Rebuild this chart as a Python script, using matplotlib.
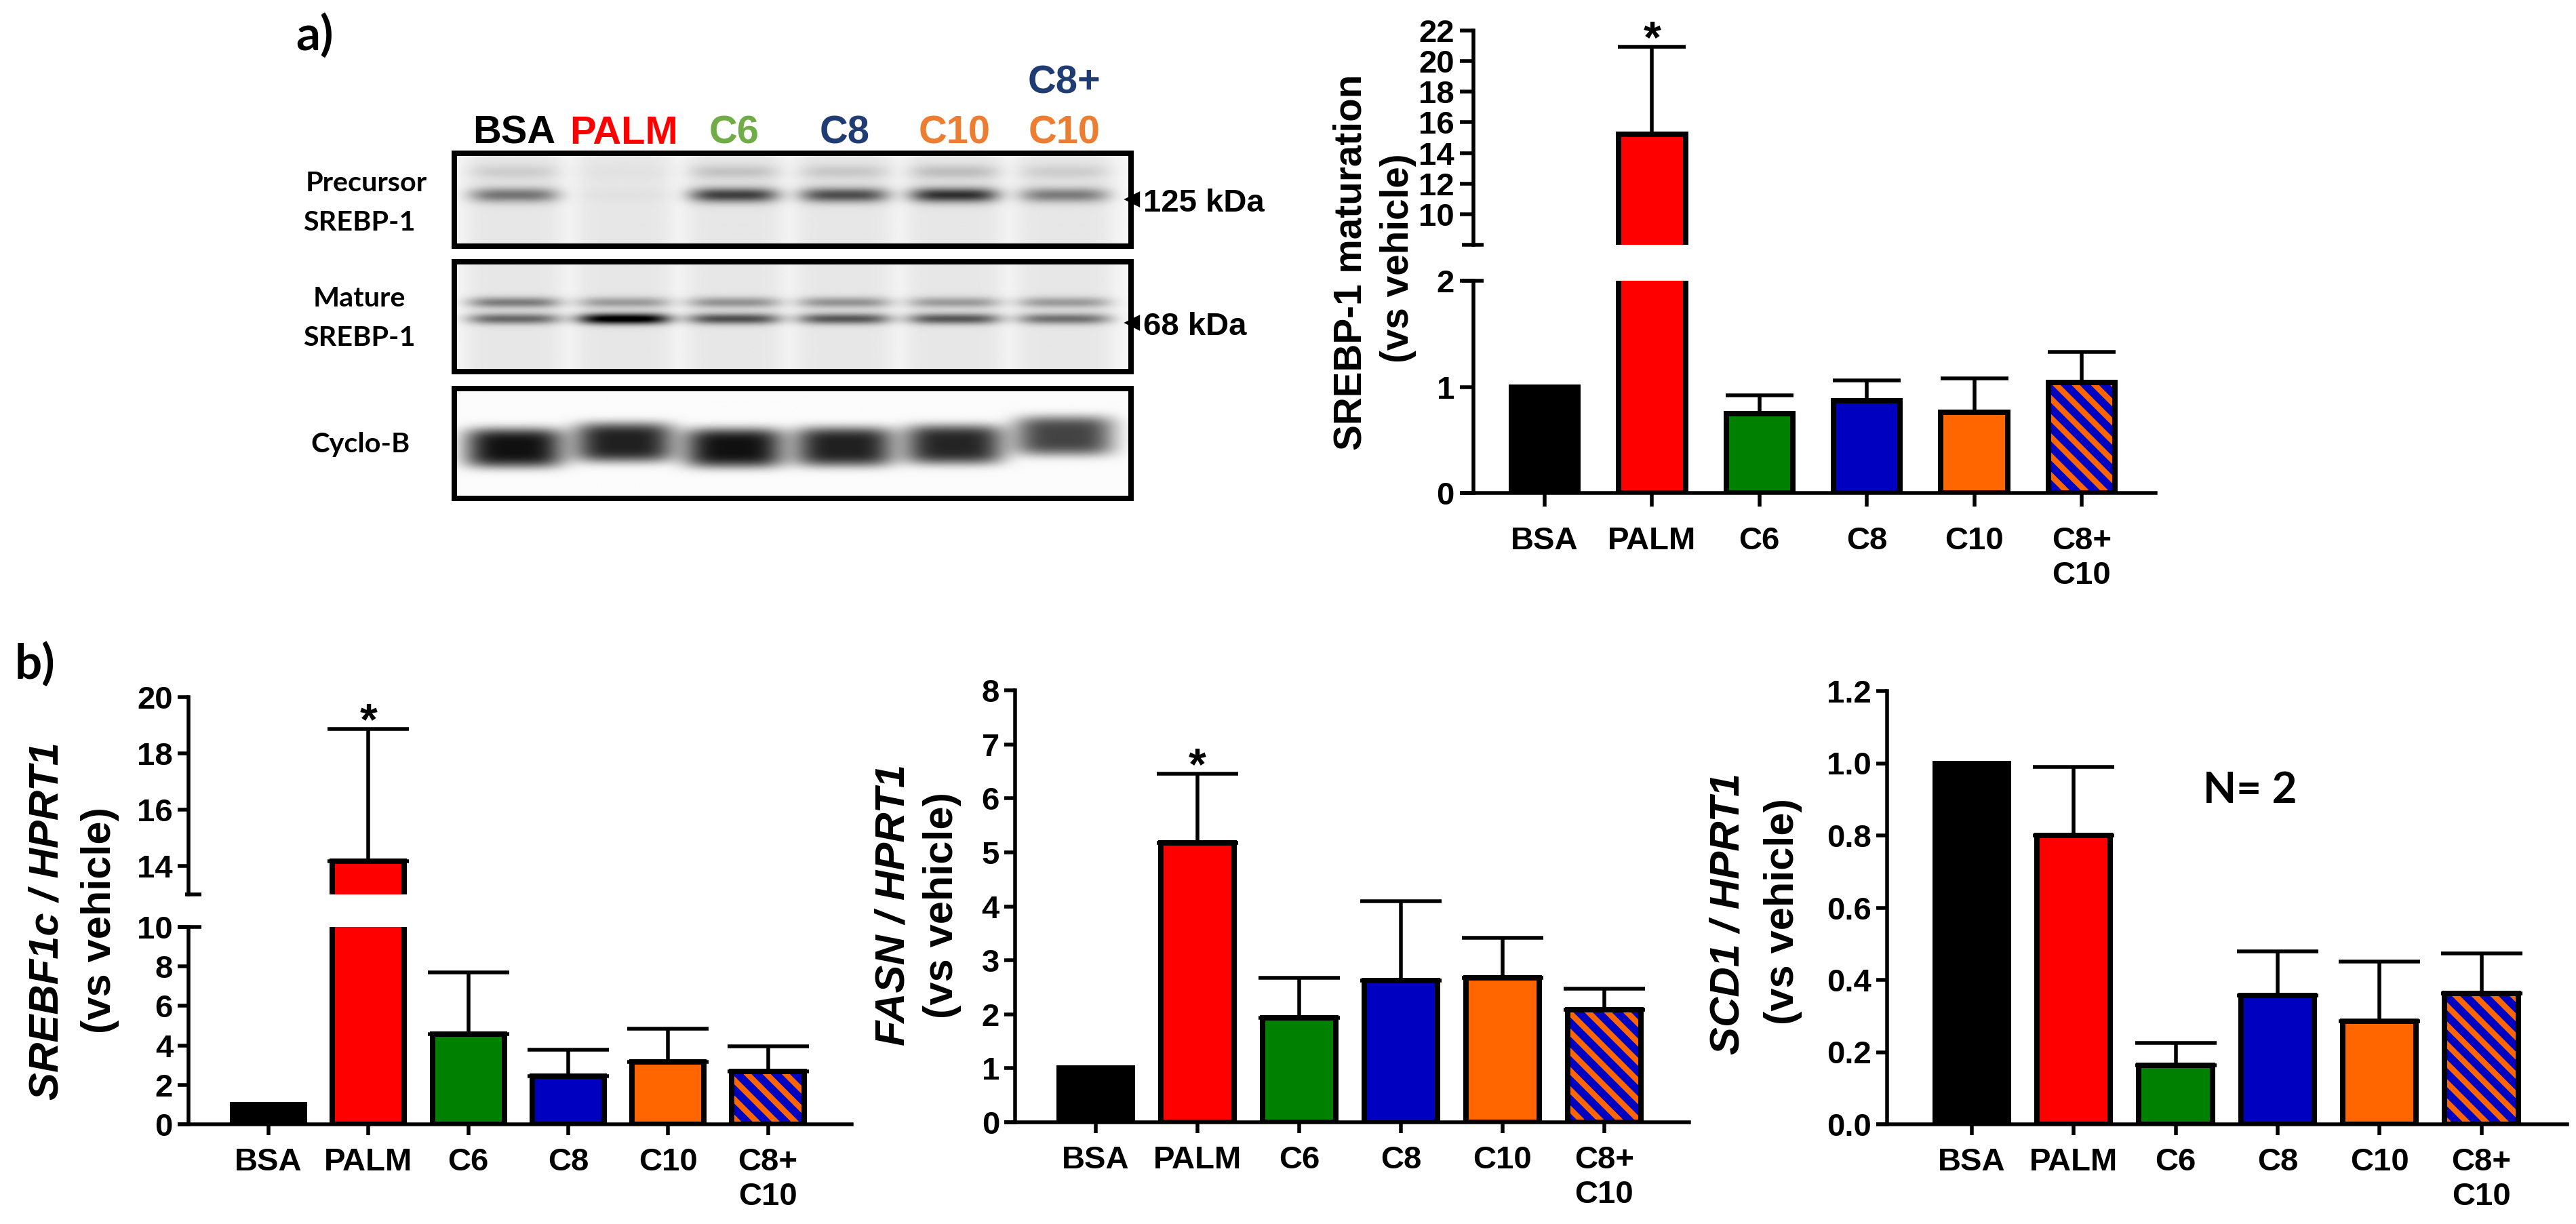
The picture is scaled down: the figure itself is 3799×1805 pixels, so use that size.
import numpy as np
import matplotlib
matplotlib.use('Agg')
import matplotlib.pyplot as plt
from matplotlib.transforms import blended_transform_factory

W, H, DPI = 3799, 1805, 170


def pt(px):
    return px * 72.0 / DPI


plt.rcParams['font.family'] = ['Liberation Sans', 'DejaVu Sans']
plt.rcParams['font.weight'] = 'bold'
plt.rcParams['hatch.linewidth'] = 3.6

# ---------------- data ----------------
groups = ['BSA', 'PALM', 'C6', 'C8', 'C10', 'C8+\nC10']
bar_colors = ['#000000', '#FF0000', '#008000', '#0000C0', '#FF6600', '#0000C0']
hatch_color = '#FF6600'
hatch_index = 5

maturation_mean = [1.00, 15.23, 0.75, 0.87, 0.76, 1.04]
maturation_top = [1.00, 20.94, 0.92, 1.06, 1.08, 1.33]
srebf1c_mean = [1.00, 14.17, 4.56, 2.45, 3.17, 2.67]
srebf1c_top = [1.00, 18.87, 7.69, 3.79, 4.84, 3.95]
fasn_mean = [1.00, 5.18, 1.94, 2.62, 2.67, 2.09]
fasn_top = [1.00, 6.45, 2.67, 4.10, 3.41, 2.47]
scd1_mean = [1.00, 0.80, 0.164, 0.356, 0.285, 0.362]
scd1_top = [1.00, 0.99, 0.225, 0.479, 0.451, 0.473]

mat_up_ticks = [10, 12, 14, 16, 18, 20, 22]
mat_lo_ticks = [0, 1, 2]
srebf_up_ticks = [14, 16, 18, 20]
srebf_lo_ticks = [0, 2, 4, 6, 8, 10]
fasn_ticks = [0, 1, 2, 3, 4, 5, 6, 7, 8]
scd1_ticks = [0.0, 0.2, 0.4, 0.6, 0.8, 1.0, 1.2]

# western blot (band darkness per lane)
blot_lanes = ['BSA', 'PALM', 'C6', 'C8', 'C10', 'C8+']
blot_lane_colors = ['#000000', '#FF0000', '#70AD47', '#203D73', '#ED7D31', '#203D73']
precursor_band = [0.45, 0.02, 0.66, 0.60, 0.72, 0.42]
precursor_smear = [0.10, 0.02, 0.14, 0.12, 0.16, 0.10]
mature_upper_band = [0.42, 0.30, 0.33, 0.33, 0.30, 0.30]
mature_lower_band = [0.50, 0.97, 0.60, 0.57, 0.57, 0.47]
cyclo_band = [0.92, 0.86, 0.92, 0.86, 0.84, 0.72]
cyclo_migration = [0.54, 0.49, 0.54, 0.53, 0.51, 0.43]

fig = plt.figure(figsize=(W / DPI, H / DPI), dpi=DPI)
fig.patch.set_facecolor('white')


def add_ax(x0, x1, ytop, ybot):
    return fig.add_axes([x0 / W, 1 - ybot / H, (x1 - x0) / W, (ybot - ytop) / H])


def ftext(x, y, s, **kw):
    return fig.text(x / W, 1 - y / H, s, **kw)


SPINE = 5.5
EDGE = 8
ERR = 5.5


def draw_bars(ax, means, tops, width, cap_px):
    x = np.arange(len(groups))
    means = np.array(means, float)
    tops = np.array(tops, float)
    for i in x:
        if i == hatch_index:
            ax.bar(i, means[i], width, color=bar_colors[i], edgecolor=hatch_color,
                   linewidth=0, hatch='\\\\', zorder=2)
            ax.bar(i, means[i], width, fill=False, edgecolor='k',
                   linewidth=pt(EDGE), zorder=3)
        else:
            ax.bar(i, means[i], width, color=bar_colors[i], edgecolor='k',
                   linewidth=pt(EDGE), zorder=3)
    up = tops - means
    m = up > 0
    ax.errorbar(x[m], means[m], yerr=[np.zeros(m.sum()), up[m]], fmt='none',
                ecolor='k', elinewidth=pt(ERR), capsize=pt(cap_px),
                capthick=pt(ERR), zorder=2.5)


def style(ax, xlim, ylim, ticks, labels, tick_len, lsize, show_x, xsize, xpad_px, ypad_px):
    ax.set_xlim(*xlim)
    ax.set_ylim(*ylim)
    ax.set_facecolor('none')
    for s in ['top', 'right']:
        ax.spines[s].set_visible(False)
    for s in ['left', 'bottom']:
        ax.spines[s].set_linewidth(pt(SPINE))
    ax.set_yticks(ticks)
    ax.set_yticklabels(labels)
    ax.tick_params(axis='y', direction='out', length=pt(tick_len), width=pt(SPINE),
                   labelsize=lsize, pad=pt(ypad_px))
    if show_x:
        ax.set_xticks(range(len(groups)))
        ax.set_xticklabels(groups)
        ax.tick_params(axis='x', direction='out', length=pt(tick_len), width=pt(SPINE),
                       labelsize=xsize, pad=pt(xpad_px))
        w_px = ax.get_position().width * W
        ax.plot([-tick_len / w_px, 0], [0, 0], transform=ax.transAxes, color='k',
                lw=pt(SPINE), clip_on=False, solid_capstyle='butt')
    else:
        ax.spines['bottom'].set_visible(False)
        ax.set_xticks([])


def break_mark(ax, y_axes, left_px, right_px):
    w_px = ax.get_position().width * W
    ax.plot([-left_px / w_px, right_px / w_px], [y_axes, y_axes], transform=ax.transAxes,
            color='k', lw=pt(SPINE), clip_on=False, solid_capstyle='butt')


def star(ax, i, top, size, drop_px):
    ax.annotate('*', xy=(i, top), xytext=(0, -pt(drop_px)), textcoords='offset points',
                ha='center', va='baseline', fontsize=size, fontweight='bold',
                annotation_clip=False)


# ---------------- panel a: bar chart with broken axis ----------------
xa0, xa1 = 2173, 3179
ca0, cstep_a = 2278, 158.4
xlim_a = (-(ca0 - xa0) / cstep_a, 5 + (xa1 - (ca0 + 5 * cstep_a)) / cstep_a)
ax_au = add_ax(xa0, xa1, 45, 361)
ax_al = add_ax(xa0, xa1, 414, 727)
for ax in (ax_au, ax_al):
    draw_bars(ax, maturation_mean, maturation_top, 0.62, 50)
style(ax_au, xlim_a, (8, 22), mat_up_ticks, [str(t) for t in mat_up_ticks], 20, 20,
      False, 20, 30, 8)
style(ax_al, xlim_a, (0, 2), mat_lo_ticks, [str(t) for t in mat_lo_ticks], 20, 20,
      True, 20, 29, 8)
break_mark(ax_au, 0, 17, 15)
break_mark(ax_al, 1, 17, 15)
star(ax_au, 1, maturation_top[1], 28, 8)
ftext(1993, 387, 'SREBP-1 maturation', rotation=90, ha='center', va='center',
      fontsize=24, fontweight='bold')
ftext(2062, 381, '(vs vehicle)', rotation=90, ha='center', va='center',
      fontsize=24, fontweight='bold')

# ---------------- panel b1: SREBF1c (broken axis) ----------------
xb0, xb1 = 278, 1256
cb0, cstep_b = 396, 147.3
xlim_b = (-(cb0 - xb0) / cstep_b, 5 + (xb1 - (cb0 + 5 * cstep_b)) / cstep_b)
ax_bu = add_ax(xb0, xb1, 1028, 1319)
ax_bl = add_ax(xb0, xb1, 1367, 1658)
for ax in (ax_bu, ax_bl):
    draw_bars(ax, srebf1c_mean, srebf1c_top, 0.72, 60)
style(ax_bu, xlim_b, (13, 20), srebf_up_ticks, [str(t) for t in srebf_up_ticks], 16, 20,
      False, 20, 19, 7)
style(ax_bl, xlim_b, (0, 10), srebf_lo_ticks, [str(t) for t in srebf_lo_ticks], 16, 20,
      True, 20, 18, 7)
break_mark(ax_bu, 0, 5, 19)
break_mark(ax_bl, 1, 16, 19)
star(ax_bu, 1, srebf1c_top[1], 28, 8)
ftext(70, 1358, 'SREBF1c / HPRT1', rotation=90, ha='center', va='center',
      fontsize=26, fontweight='bold', fontstyle='italic')
ftext(148, 1357, '(vs vehicle)', rotation=90, ha='center', va='center',
      fontsize=26, fontweight='bold')

# ---------------- panel b2: FASN ----------------
xc0, xc1 = 1497, 2491
cc0, cstep_c = 1616, 150.0
xlim_c = (-(cc0 - xc0) / cstep_c, 5 + (xc1 - (cc0 + 5 * cstep_c)) / cstep_c)
ax_c = add_ax(xc0, xc1, 1018, 1655)
draw_bars(ax_c, fasn_mean, fasn_top, 0.72, 60)
style(ax_c, xlim_c, (0, 8), fasn_ticks, [str(t) for t in fasn_ticks], 16, 20,
      True, 20, 18, 7)
star(ax_c, 1, fasn_top[1], 28, 8)
ftext(1318, 1334, 'FASN / HPRT1', rotation=90, ha='center', va='center',
      fontsize=26, fontweight='bold', fontstyle='italic')
ftext(1390, 1335, '(vs vehicle)', rotation=90, ha='center', va='center',
      fontsize=26, fontweight='bold')

# ---------------- panel b3: SCD1 ----------------
xd0, xd1 = 2783, 3786
cd0, cstep_d = 2908, 150.3
xlim_d = (-(cd0 - xd0) / cstep_d, 5 + (xd1 - (cd0 + 5 * cstep_d)) / cstep_d)
ax_d = add_ax(xd0, xd1, 1019, 1658)
draw_bars(ax_d, scd1_mean, scd1_top, 0.72, 60)
style(ax_d, xlim_d, (0, 1.2), scd1_ticks, ['%.1f' % t for t in scd1_ticks], 16, 20,
      True, 20, 18, 7)
ftext(2549, 1347, 'SCD1 / HPRT1', rotation=90, ha='center', va='center',
      fontsize=26, fontweight='bold', fontstyle='italic')
ftext(2630, 1344, '(vs vehicle)', rotation=90, ha='center', va='center',
      fontsize=26, fontweight='bold')
ftext(3249, 1184, 'N= 2', ha='left', va='baseline', fontsize=27, fontweight='bold',
      family=['Lato', 'DejaVu Sans'])

# ---------------- western blot ----------------
box_x0, box_x1 = 670, 1668
lane0, lane_step = 758, 162.4
XL = (box_x0 - lane0) / lane_step
XR = (box_x1 - lane0) / lane_step
blot_boxes = [(226, 363), (386, 548), (573, 735)]


def blot_panel(ytop, ybot, bands, lane_bg, bg):
    ax = add_ax(box_x0, box_x1, ytop, ybot)
    xs = np.linspace(XL, XR, 1000)
    ys = np.linspace(0, 1, 200)
    X, Y = np.meshgrid(xs, ys)
    img = np.full(X.shape, bg)
    for i in range(len(blot_lanes)):
        lane = np.exp(-((X - i) / 0.45) ** 6)
        img -= lane_bg * lane
        for amps, yc, sy, hw, pw in bands:
            yci = yc[i] if np.ndim(yc) else yc
            prof = np.exp(-((X - i) / hw) ** 4)
            img -= amps[i] * prof * np.exp(-np.abs((Y - yci) / sy) ** pw)
    ax.imshow(np.clip(img, 0, 1), cmap='gray', vmin=0, vmax=1, aspect='auto',
              extent=(XL, XR, 1, 0), interpolation='bilinear')
    ax.set_xlim(XL, XR)
    ax.set_ylim(1, 0)
    ax.set_xticks([])
    ax.set_yticks([])
    for s in ax.spines.values():
        s.set_linewidth(pt(8))
    return ax


ax_p = blot_panel(*blot_boxes[0], [
    (precursor_band, 0.45, 0.08, 0.40, 2),
    (precursor_smear, 0.20, 0.08, 0.40, 2),
], 0.06, 0.965)
ax_m = blot_panel(*blot_boxes[1], [
    (mature_upper_band, 0.37, 0.05, 0.42, 2),
    (mature_lower_band, 0.52, 0.05, 0.42, 2),
], 0.06, 0.965)
ax_c2 = blot_panel(*blot_boxes[2], [
    (cyclo_band, cyclo_migration, 0.18, 0.45, 4),
], 0.0, 0.985)

tr = blended_transform_factory(ax_p.transData, fig.transFigure)
label_base = [212, 212, 212, 212, 212, 138]
for i, (name, col) in enumerate(zip(blot_lanes, blot_lane_colors)):
    fig.text(i, 1 - label_base[i] / H, name, transform=tr, ha='center', va='baseline',
             fontsize=24.5, fontweight='bold', color=col)
fig.text(5, 1 - 212 / H, 'C10', transform=tr, ha='center', va='baseline',
         fontsize=24.5, fontweight='bold', color='#ED7D31')

lab_kw = dict(ha='center', va='center', fontsize=17.5, fontweight='bold',
              family=['Lato', 'DejaVu Sans'])
ftext(540, 271, 'Precursor', **lab_kw)
ftext(530, 329, 'SREBP-1', **lab_kw)
ftext(530, 440, 'Mature', **lab_kw)
ftext(530, 498, 'SREBP-1', **lab_kw)
ftext(532, 656, 'Cyclo-B', **lab_kw)

for y, s in [(294, '125 kDa'), (476, '68 kDa')]:
    fig.lines.append(matplotlib.lines.Line2D([1670 / W], [1 - y / H], marker='<',
                     markersize=pt(20), color='k', transform=fig.transFigure))
    ftext(1686, y + 18, s, ha='left', va='baseline', fontsize=20, fontweight='bold')

# panel letters
ftext(492, 74, 'a)', ha='right', va='baseline', fontsize=30, fontweight='bold',
      family=['Lato', 'DejaVu Sans'])
ftext(22, 1001, 'b)', ha='left', va='baseline', fontsize=30, fontweight='bold',
      family=['Lato', 'DejaVu Sans'])

fig.savefig('out.png', dpi=DPI, facecolor='white')
